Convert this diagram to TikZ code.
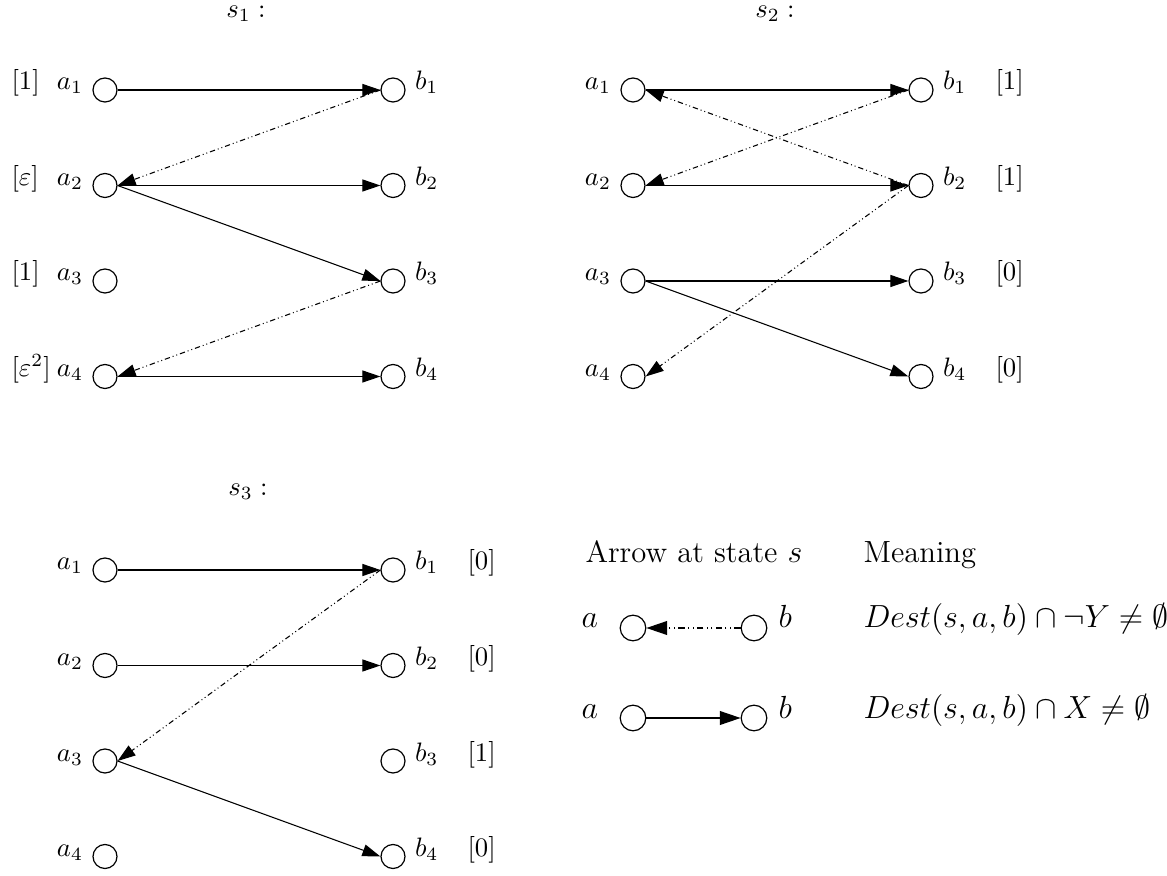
\documentclass[tikz,border=0pt]{standalone}
\usepackage{amssymb}
\usetikzlibrary{arrows.meta, positioning, calc}

\tikzset{
   state/.style={circle, draw, line width=0.45pt, minimum size=9pt, inner sep=0pt},
   txt/.style={inner sep=0pt},
   move/.style={-{Triangle[length=6.75pt, width=4.5pt]}, line width=0.4pt},
   bad/.style={move, dash pattern=on 2pt off 1.1pt on 0.35pt off 1.1pt on 0.35pt off 1.1pt},
   key/.style={font=\fontsize{11.5}{14}\selectfont},
   keystate/.style={state, minimum size=9.6pt},
   keymove/.style={-{Triangle[length=7.8pt, width=5.2pt]}, line width=0.45pt},
   keybad/.style={keymove, dash pattern=on 2.3pt off 1.3pt on 0.4pt off 1.3pt on 0.4pt off 1.3pt}
}

\begin{document}
\begin{tikzpicture}[x=0.375pt, y=-0.375pt]
   \useasboundingbox (0,0) rectangle (1167,876);

   % s_1
   \node (t1) at (246,18) [anchor=base, txt] {$s_1:$};
   \foreach \i/\y/\w in {1/90/{[1]}, 2/185.5/{[\varepsilon]}, 3/281/{[1]}, 4/376.5/{[\varepsilon^2]}}{
      \node (s1a\i) at (105,\y) [state] {};
      \node (s1b\i) at (393,\y) [state] {};
      \node (s1la\i) at (s1a\i.west) [anchor=base east] {$a_\i$};
      \node (s1lb\i) at (s1b\i.east) [anchor=base west] {$b_\i$};
      \node (s1w\i) at (11,\y) [anchor=base west, txt] {$\w$};
   }
   \draw[move] (s1a1.east) -- (s1b1.west);
   \draw[bad] (s1b1.west) -- (s1a2.east);
   \draw[move] (s1a2.east) -- (s1b2.west);
   \draw[move] (s1a2.east) -- (s1b3.west);
   \draw[bad] (s1b3.west) -- (s1a4.east);
   \draw[move] (s1a4.east) -- (s1b4.west);

   % s_2
   \node (t2) at (775,18) [anchor=base, txt] {$s_2:$};
   \foreach \i/\y/\w in {1/90/1, 2/185.5/1, 3/281/0, 4/376.5/0}{
      \node (s2a\i) at (633,\y) [state] {};
      \node (s2b\i) at (921,\y) [state] {};
      \node (s2la\i) at (s2a\i.west) [anchor=base east] {$a_\i$};
      \node (s2lb\i) at (s2b\i.east) [anchor=base west] {$b_\i$};
      \node (s2w\i) at (995,\y) [anchor=base west, txt] {$[\w]$};
   }
   \draw[move] (s2a1.east) -- (s2b1.west);
   \draw[move] (s2a2.east) -- (s2b2.west);
   \draw[move] (s2a3.east) -- (s2b3.west);
   \draw[move] (s2a3.east) -- (s2b4.west);
   \draw[bad] (s2b1.west) -- (s2a2.east);
   \draw[bad] (s2b2.west) -- (s2a1.east);
   \draw[bad] (s2b2.west) -- (s2a4.east);

   % s_3
   \node (t3) at (248,496) [anchor=base, txt] {$s_3:$};
   \foreach \i/\y/\w in {1/570/0, 2/665.5/0, 3/761/1, 4/856.5/0}{
      \node (s3a\i) at (105,\y) [state] {};
      \node (s3b\i) at (393,\y) [state] {};
      \node (s3la\i) at (s3a\i.west) [anchor=base east] {$a_\i$};
      \node (s3lb\i) at (s3b\i.east) [anchor=base west] {$b_\i$};
      \node (s3w\i) at (467,\y) [anchor=base west, txt] {$[\w]$};
   }
   \draw[move] (s3a1.east) -- (s3b1.west);
   \draw[move] (s3a2.east) -- (s3b2.west);
   \draw[move] (s3a3.east) -- (s3b4.west);
   \draw[bad] (s3b1.west) -- (s3a3.east);

   % legend
   \begin{scope}[key]
      \node (hd) at (585,563) [anchor=base west, txt] {Arrow at state $s$};
      \node (mn) at (863,563) [anchor=base west, txt] {Meaning};
      \node (ka1) at (633,628) [keystate] {};
      \node (kb1) at (754,628) [keystate] {};
      \node (ka2) at (633,718) [keystate] {};
      \node (kb2) at (754,718) [keystate] {};
      \foreach \r in {1,2}{
         \node (kla\r) at (ka\r.west) [anchor=base east, txt, xshift=-7.9pt] {$a$};
         \node (klb\r) at (kb\r.east) [anchor=base west, txt, xshift=4pt] {$b$};
      }
      \draw[keybad] (kb1.west) -- (ka1.east);
      \draw[keymove] (ka2.east) -- (kb2.west);
      \node (m1) at (863,628) [anchor=base west, txt] {$Dest(s,a,b)\cap\neg Y\neq\emptyset$};
      \node (m2) at (863,718) [anchor=base west, txt] {$Dest(s,a,b)\cap X\neq\emptyset$};
   \end{scope}
\end{tikzpicture}
\end{document}
